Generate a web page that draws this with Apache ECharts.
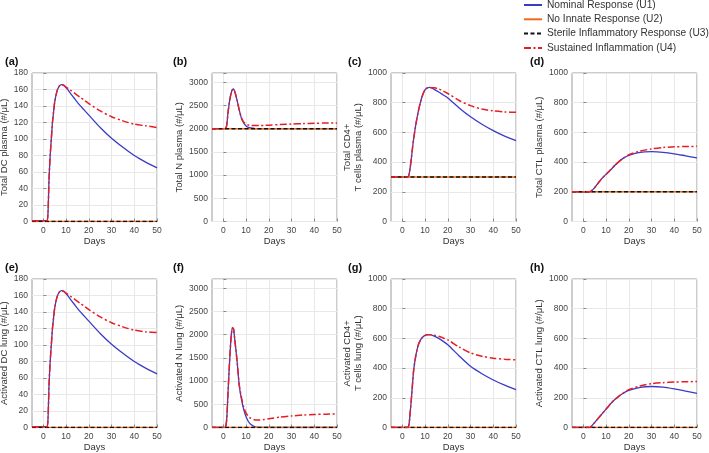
<!DOCTYPE html>
<html>
<head>
<meta charset="utf-8">
<script src="https://cdn.jsdelivr.net/npm/echarts@6/dist/echarts.min.js"></script>
<style>
  html, body { margin: 0; padding: 0; background: #fff; }
  #chart { width: 709px; height: 453px; }
</style>
</head>
<body>
<div id="chart"></div>
<script>
  // time grid (days) shared by every curve
  const days = [-5, 0, 1, 1.5, 2, 2.5, 3, 3.5, 4, 4.5, 5, 6, 7, 8, 9, 10, 11, 12, 14, 16, 18, 20, 25, 30, 35, 40, 45, 50]
  const xTicks = [0, 10, 20, 30, 40, 50]

  const seriesNames = ['Nominal Response (U1)', 'No Innate Response (U2)', 'Sterile Inflammatory Response (U3)', 'Sustained Inflammation (U4)']
  const panelLabels = ['(a)', '(b)', '(c)', '(d)', '(e)', '(f)', '(g)', '(h)']
  const yTitles = [
    'Total DC plasma (#/μL)',
    'Total N plasma (#/μL)',
    'Total CD4+\nT cells plasma (#/μL)',
    'Total CTL plasma (#/μL)',
    'Activated DC lung (#/μL)',
    'Activated N lung (#/μL)',
    'Activated CD4+\nT cells lung (#/μL)',
    'Activated CTL lung (#/μL)'
  ]
  const yMax = [180, 3200, 1000, 1000, 180, 3200, 1000, 1000]
  const yStep = [20, 500, 200, 200, 20, 500, 200, 200]

  // U2 / U3 stay flat at the initial level
  const baseline = [0, 2000, 300, 200, 0, 0, 0, 0]

  // U1 (nominal) and U4 (sustained) per panel
  const dcPlasmaU1 = [1, 1, 1, 1, 8, 52, 80, 100, 120, 133, 145, 158, 164, 166, 165, 162, 159, 155, 148, 141, 135, 129, 114, 101, 90, 80, 72, 65]
  const dcPlasmaU4 = [1, 1, 1, 1, 8, 52, 80, 100, 120, 133, 145, 158, 164, 166, 165, 163, 161, 159, 155, 151, 147, 143, 134, 127, 122, 118, 116, 114]
  const nPlasmaU1 = [2000, 2000, 2010, 2080, 2330, 2520, 2670, 2780, 2840, 2855, 2800, 2620, 2400, 2220, 2120, 2060, 2030, 2015, 2002, 2000, 2000, 2000, 2000, 2000, 2000, 2000, 2000, 2000]
  const nPlasmaU4 = [2000, 2000, 2010, 2080, 2330, 2520, 2670, 2780, 2840, 2855, 2800, 2620, 2400, 2230, 2140, 2100, 2080, 2072, 2066, 2066, 2070, 2075, 2088, 2100, 2110, 2117, 2122, 2125]
  const cd4PlasmaU1 = [300, 300, 300, 300, 300, 300, 320, 370, 430, 500, 560, 660, 740, 805, 855, 888, 900, 903, 890, 872, 852, 832, 765, 705, 655, 612, 575, 545]
  const cd4PlasmaU4 = [300, 300, 300, 300, 300, 300, 320, 370, 430, 500, 560, 660, 740, 805, 855, 888, 900, 903, 900, 893, 878, 862, 815, 780, 757, 745, 738, 735]
  const ctlPlasmaU1 = [200, 200, 200, 200, 200, 200, 201, 205, 212, 220, 228, 248, 268, 287, 303, 318, 333, 348, 380, 408, 430, 446, 466, 470, 466, 456, 442, 428]
  const ctlPlasmaU4 = [200, 200, 200, 200, 200, 200, 201, 205, 212, 220, 228, 248, 268, 287, 303, 318, 333, 348, 380, 408, 431, 450, 474, 489, 498, 503, 505, 506]
  const dcLungU1 = [1, 1, 1, 1, 8, 52, 80, 100, 120, 133, 145, 158, 164, 166, 165, 162, 159, 155, 148, 141, 135, 129, 114, 101, 90, 80, 72, 65]
  const dcLungU4 = [1, 1, 1, 1, 8, 52, 80, 100, 120, 133, 145, 158, 164, 166, 165, 163, 161, 159, 155, 151, 147, 143, 134, 127, 122, 118, 116, 115]
  const nLungU1 = [0, 0, 20, 200, 700, 1200, 1650, 2000, 2150, 2120, 1900, 1450, 900, 600, 380, 230, 130, 70, 12, 3, 1, 0, 0, 0, 0, 0, 0, 0]
  const nLungU4 = [0, 0, 20, 200, 700, 1200, 1650, 2000, 2150, 2120, 1900, 1450, 920, 640, 430, 310, 240, 200, 162, 160, 172, 190, 225, 250, 268, 280, 288, 292]
  const cd4LungU1 = [0, 0, 0, 0, 0, 0, 30, 110, 200, 300, 390, 490, 555, 590, 610, 620, 625, 625, 615, 600, 580, 557, 482, 412, 362, 320, 285, 255]
  const cd4LungU4 = [0, 0, 0, 0, 0, 0, 30, 110, 200, 300, 390, 490, 555, 590, 610, 620, 625, 625, 622, 615, 603, 590, 542, 502, 480, 467, 460, 456]
  const ctlLungU1 = [0, 0, 0, 0, 0, 0, 0, 8, 16, 25, 34, 52, 70, 88, 106, 124, 142, 160, 190, 215, 235, 250, 270, 276, 272, 260, 245, 230]
  const ctlLungU4 = [0, 0, 0, 0, 0, 0, 0, 8, 16, 25, 34, 52, 70, 88, 106, 124, 142, 160, 190, 215, 237, 255, 280, 295, 302, 306, 308, 310]

  const u1 = [dcPlasmaU1, nPlasmaU1, cd4PlasmaU1, ctlPlasmaU1, dcLungU1, nLungU1, cd4LungU1, ctlLungU1]
  const u4 = [dcPlasmaU4, nPlasmaU4, cd4PlasmaU4, ctlPlasmaU4, dcLungU4, nLungU4, cd4LungU4, ctlLungU4]

  // layout
  const colLeft = [32, 212, 391, 572]
  const rowTop = [73, 279]
  const plotW = 125, plotH = 148.5
  const labelX = [5, 173, 348, 530]
  const labelY = [56, 262]

  const FONT = 'Liberation Sans, Arial, sans-serif'
  const colors = ['#3b3bc6', '#ee6a16', '#111111', '#e61e24']

  const grids = [], xAxes = [], yAxes = [], series = [], graphics = []

  for (let i = 0; i < 8; i++) {
    const col = i % 4, row = Math.floor(i / 4)
    grids.push({
      left: colLeft[col], top: rowTop[row], width: plotW, height: plotH,
      show: true, borderColor: '#9a9a9a', borderWidth: 1,
      outerBoundsMode: 'none', containLabel: false
    })
    xAxes.push({
      gridIndex: i, type: 'value', min: -5, max: 50,
      name: 'Days', nameLocation: 'middle', nameGap: 15,
      nameTextStyle: { fontSize: 9.5, color: '#333', fontFamily: FONT },
      axisLine: { show: false },
      axisTick: { show: true, inside: true, length: 3, customValues: xTicks, lineStyle: { color: '#888' } },
      axisLabel: { customValues: xTicks, fontSize: 8.5, color: '#444', margin: 5, fontFamily: FONT },
      splitLine: { show: true, lineStyle: { color: '#e8e8e8', width: 1 } }
    })
    const step = yStep[i]
    yAxes.push({
      gridIndex: i, type: 'value', min: 0, max: yMax[i], interval: step,
      name: yTitles[i], nameLocation: 'middle', nameGap: 22, nameRotate: 90,
      nameTextStyle: { fontSize: 9.5, color: '#333', fontFamily: FONT, lineHeight: 11 },
      axisLine: { show: false },
      axisTick: { show: true, inside: true, length: 3, lineStyle: { color: '#888' } },
      axisLabel: {
        fontSize: 8.5, color: '#444', margin: 4, fontFamily: FONT,
        formatter: v => (v % step === 0 ? String(v) : '')
      },
      splitLine: { show: true, lineStyle: { color: '#e8e8e8', width: 1 } }
    })

    series.push({
      type: 'line', name: seriesNames[0], xAxisIndex: i, yAxisIndex: i,
      data: days.map((d, k) => [d, u1[i][k]]),
      symbol: 'none', smooth: 0.25, clip: true,
      lineStyle: { color: colors[0], width: 1.3 }, itemStyle: { color: colors[0] }
    })
    series.push({
      type: 'line', name: seriesNames[1], xAxisIndex: i, yAxisIndex: i,
      data: [[-5, baseline[i]], [50, baseline[i]]],
      symbol: 'none', clip: true,
      lineStyle: { color: colors[1], width: 1.5 }, itemStyle: { color: colors[1] }
    })
    series.push({
      type: 'line', name: seriesNames[2], xAxisIndex: i, yAxisIndex: i,
      data: [[-5, baseline[i]], [50, baseline[i]]],
      symbol: 'none', clip: true,
      lineStyle: { color: colors[2], width: 1.5, type: [4, 2.5] }, itemStyle: { color: colors[2] }
    })
    series.push({
      type: 'line', name: seriesNames[3], xAxisIndex: i, yAxisIndex: i,
      data: days.map((d, k) => [d, u4[i][k]]),
      symbol: 'none', smooth: 0.25, clip: true,
      lineStyle: { color: colors[3], width: 1.5, type: [7, 2.5, 2, 2.5] }, itemStyle: { color: colors[3] }
    })

    graphics.push({
      type: 'text', left: labelX[col], top: labelY[row],
      style: { text: panelLabels[i], font: 'bold 11px ' + FONT, fill: '#111' }
    })
  }

  const chart = echarts.init(document.getElementById('chart'))
  chart.setOption({
    animation: false,
    backgroundColor: '#fff',
    legend: {
      orient: 'vertical', left: 523, top: 0, padding: 0,
      itemWidth: 18, itemHeight: 11, itemGap: 4.3,
      itemStyle: { opacity: 0 },
      textStyle: { fontSize: 10.2, color: '#333', fontFamily: FONT },
      data: seriesNames
    },
    grid: grids,
    xAxis: xAxes,
    yAxis: yAxes,
    series: series,
    graphic: graphics
  })
</script>
</body>
</html>
